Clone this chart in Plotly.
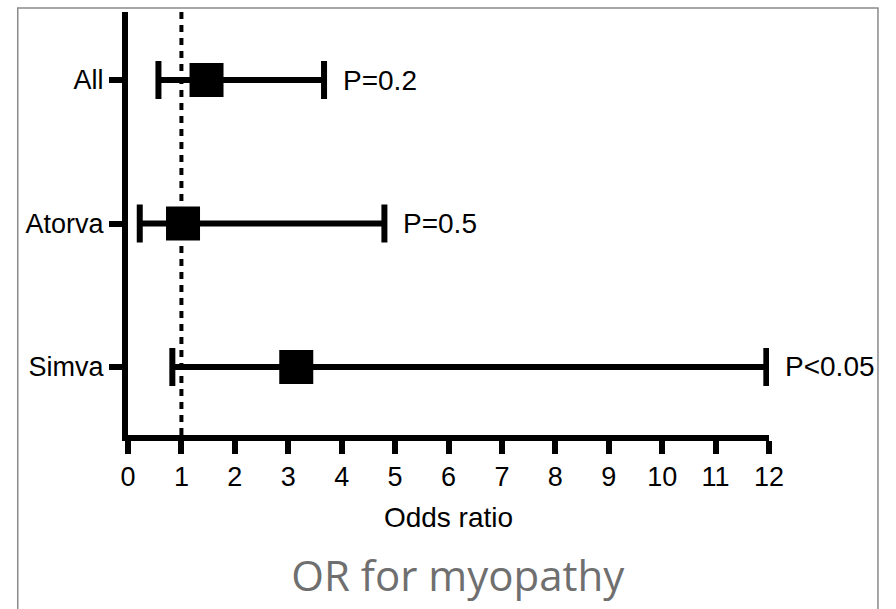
import plotly.graph_objects as go

# Data
categories = ["All", "Atorva", "Simva"]
odds_ratio = [1.47, 1.03, 3.15]
ci_lower = [0.57, 0.22, 0.83]
ci_upper = [3.67, 4.80, 11.95]
p_labels = ["P=0.2", "P=0.5", "P<0.05"]
x_ticks = list(range(0, 13))
reference_or = 1

fig = go.Figure()

fig.add_trace(go.Scatter(
    x=odds_ratio,
    y=categories,
    mode="markers",
    marker=dict(symbol="square", size=34, color="black"),
    error_x=dict(
        type="data",
        symmetric=False,
        array=[u - o for u, o in zip(ci_upper, odds_ratio)],
        arrayminus=[o - l for o, l in zip(odds_ratio, ci_lower)],
        color="black",
        thickness=6,
        width=19,
    ),
    showlegend=False,
    hoverinfo="skip",
))

# reference line at OR = 1
fig.add_shape(type="line", xref="x", yref="paper",
              x0=reference_or, x1=reference_or, y0=0, y1=1,
              line=dict(color="black", width=4, dash="7px,6px"), layer="above")

# P-value labels
for cat, up, lab in zip(categories, ci_upper, p_labels):
    fig.add_annotation(x=up, y=cat, xref="x", yref="y", text=lab,
                       showarrow=False, xanchor="left", yanchor="middle",
                       xshift=17,
                       font=dict(family="Liberation Sans, Arial", size=28, color="black"))

# slide border
fig.add_shape(type="rect", xref="paper", yref="paper",
              x0=-0.172, x1=1.17, y0=-1.0, y1=1.0095,
              line=dict(color="#8a8a8a", width=1.5), layer="below")

fig.update_layout(
    width=896, height=609,
    margin=dict(l=128, r=127, t=12, b=174),
    paper_bgcolor="white", plot_bgcolor="white",
    font=dict(family="Liberation Sans, Arial", size=27, color="black"),
    title=dict(text="OR for myopathy", x=0.511, xanchor="center",
               y=0.054, yanchor="middle", yref="container",
               font=dict(family="Open Sans", size=42, color="#6f6f6f")),
    xaxis=dict(
        range=[0, 12], tickvals=x_ticks, ticktext=[str(t) for t in x_ticks],
        showline=True, linecolor="black", linewidth=6,
        ticks="outside", ticklen=13, tickwidth=6, tickcolor="black",
        showgrid=False, zeroline=False,
        tickfont=dict(size=27),
        title=dict(text="Odds ratio", standoff=18, font=dict(size=28)),
    ),
    yaxis=dict(
        type="category", categoryorder="array",
        categoryarray=categories[::-1],
        range=[-0.474, 2.474],
        showline=True, linecolor="black", linewidth=6,
        ticks="outside", ticklen=13, tickwidth=6, tickcolor="black",
        showgrid=False, zeroline=False,
        tickfont=dict(size=27),
    ),
)

fig.write_html("out.html")
